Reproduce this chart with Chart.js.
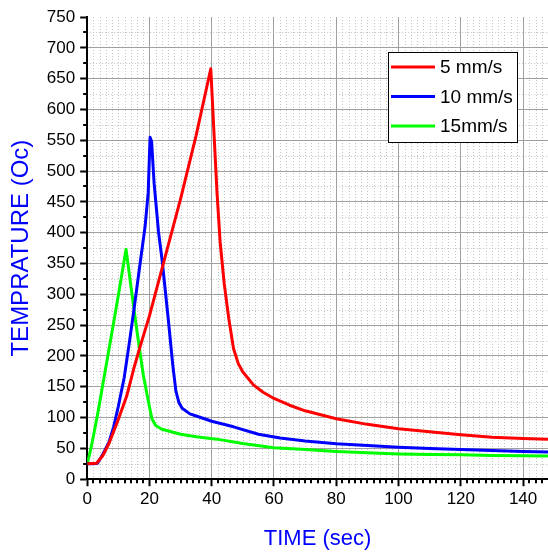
<!DOCTYPE html>
<html>
<head>
<meta charset="utf-8">
<script src="https://cdn.jsdelivr.net/npm/chart.js@4.4.0/dist/chart.umd.min.js"></script>
<style>
  html, body { margin: 0; padding: 0; background: #fff; }
  #caixa { width: 548px; height: 552px; }
</style>
</head>
<body>
<div id="caixa"><canvas id="grafico"></canvas></div>
<script>
// valores
const nomes = ['5 mm/s', '10 mm/s', '15mm/s'];
const cores = ['#ff0000', '#0000ff', '#00ff00'];

const tempo5 = [0, 3, 5, 7, 9.7, 12.7, 15, 17, 20, 25, 30, 35, 39.7, 40.7, 41.7, 42.7, 44, 45.5, 47, 48.5, 50, 53.4, 56.5, 60, 65, 70, 80, 90, 100, 110, 120, 130, 140, 148];
const temp5 = [25, 26, 38, 58, 93, 135, 180, 215, 265, 360, 455, 558, 666, 565, 465, 385, 318, 260, 212, 188, 174, 153, 141, 131, 120, 111, 98, 89, 82, 77, 72, 68, 66, 65];

const tempo10 = [0, 2, 3.3, 5, 7, 8.5, 10, 11.9, 13.5, 15.1, 17, 18.6, 19.6, 20.2, 20.7, 21.5, 22.9, 24.1, 26, 27.5, 28.5, 29.5, 30.5, 33, 36, 40, 47, 55, 62, 70, 80, 90, 100, 110, 120, 130, 140, 148];
const temp10 = [25, 25, 26, 40, 60, 85, 118, 165, 220, 278, 350, 410, 465, 555, 548, 480, 402, 354, 262, 185, 143, 124, 115, 106, 101, 94, 85, 73, 67, 62, 57.6, 54.5, 52, 50, 48, 46.5, 45, 44];

const tempo15 = [0, 1, 2, 3.3, 5, 7.6, 10, 12.5, 14, 16, 18, 19.7, 20.8, 22, 24, 27, 30, 35, 41.6, 50, 60, 70, 80, 90, 100, 110, 120, 130, 140, 148];
const temp15 = [25, 45, 70, 104, 153, 228, 298, 373, 315, 240, 170, 125, 98, 87, 81, 77, 73, 69, 65, 58, 51, 48, 45, 43, 41, 40, 39.5, 38.5, 38, 37.5];

const ticksX = [0, 20, 40, 60, 80, 100, 120, 140];

const fonte = '"Liberation Sans", Arial, sans-serif';

function pontos(xs, ys) {
  return xs.map((x, i) => ({ x: x, y: ys[i] }));
}

// grade menor pontilhada + tracinhos menores
const gradeMenor = {
  id: 'gradeMenor',
  beforeDraw(chart) {
    const { ctx, chartArea: a, scales: { x, y } } = chart;
    ctx.save();
    ctx.strokeStyle = '#c4c4c4';
    ctx.lineWidth = 1;
    ctx.setLineDash([1, 2]);
    for (let v = 2; v < x.max; v += 2) {
      if (v % 20 === 0) continue;
      const px = Math.round(x.getPixelForValue(v)) + 0.5;
      ctx.beginPath(); ctx.moveTo(px, a.top); ctx.lineTo(px, a.bottom); ctx.stroke();
    }
    for (let v = 25; v <= y.max; v += 50) {
      const py = Math.round(y.getPixelForValue(v)) + 0.5;
      ctx.beginPath(); ctx.moveTo(a.left, py); ctx.lineTo(a.right, py); ctx.stroke();
    }
    ctx.restore();
  },
  afterDraw(chart) {
    const { ctx, chartArea: a, scales: { x, y } } = chart;
    ctx.save();
    ctx.strokeStyle = '#000';
    ctx.lineWidth = 2;
    for (let v = 2; v < x.max; v += 2) {
      if (v % 20 === 0) continue;
      const px = Math.round(x.getPixelForValue(v));
      ctx.beginPath(); ctx.moveTo(px, a.bottom); ctx.lineTo(px, a.bottom + 4); ctx.stroke();
    }
    for (let v = 25; v <= y.max; v += 50) {
      const py = Math.round(y.getPixelForValue(v));
      ctx.beginPath(); ctx.moveTo(a.left, py); ctx.lineTo(a.left - 4, py); ctx.stroke();
    }
    ctx.restore();
  }
};

// legenda com caixa
const legendaCaixa = {
  id: 'legendaCaixa',
  afterDraw(chart) {
    const ctx = chart.ctx;
    const bx = 388, by = 52, bw = 129, bh = 90;
    ctx.save();
    ctx.fillStyle = '#fff';
    ctx.fillRect(bx, by, bw, bh);
    ctx.strokeStyle = '#000';
    ctx.lineWidth = 1;
    ctx.strokeRect(bx + 0.5, by + 0.5, bw, bh);
    ctx.font = '19px ' + fonte;
    ctx.textBaseline = 'middle';
    chart.data.datasets.forEach((ds, i) => {
      const ly = by + 15 + i * 29.5;
      ctx.strokeStyle = ds.borderColor;
      ctx.lineWidth = 3;
      ctx.beginPath(); ctx.moveTo(bx + 3, ly); ctx.lineTo(bx + 47, ly); ctx.stroke();
      ctx.fillStyle = '#000';
      ctx.fillText(ds.label, bx + 52, ly + 1);
    });
    ctx.restore();
  }
};

const grafico = new Chart(document.getElementById('grafico'), {
  type: 'line',
  data: {
    datasets: [
      { label: nomes[0], data: pontos(tempo5, temp5), borderColor: cores[0] },
      { label: nomes[1], data: pontos(tempo10, temp10), borderColor: cores[1] },
      { label: nomes[2], data: pontos(tempo15, temp15), borderColor: cores[2] }
    ]
  },
  options: {
    responsive: true,
    maintainAspectRatio: false,
    animation: false,
    devicePixelRatio: 1,
    layout: { padding: { top: 17, right: 0, bottom: 0, left: 0 } },
    elements: {
      line: { borderWidth: 3, tension: 0, borderJoinStyle: 'round' },
      point: { radius: 0 }
    },
    plugins: { legend: { display: false }, tooltip: { enabled: false } },
    scales: {
      x: {
        type: 'linear',
        min: 0,
        max: 148,
        afterBuildTicks: s => { s.ticks = ticksX.map(v => ({ value: v })); },
        ticks: { color: '#000', font: { family: fonte, size: 17 }, padding: 3, maxRotation: 0, autoSkip: false },
        grid: { color: '#a0a0a0', lineWidth: 1, tickColor: '#000', tickLength: 7, tickWidth: 2 },
        border: { color: '#000', width: 2 },
        title: { display: true, text: 'TIME (sec)', color: '#0000ff', font: { family: fonte, size: 22 }, padding: { top: 13, bottom: 0 } }
      },
      y: {
        min: 0,
        max: 750,
        ticks: { stepSize: 50, color: '#000', font: { family: fonte, size: 17 }, padding: 5 },
        grid: {
          color: c => (c.tick && c.tick.value === 750) ? 'rgba(0,0,0,0)' : '#a0a0a0',
          lineWidth: 1, tickColor: '#000', tickLength: 7, tickWidth: 2
        },
        border: { color: '#000', width: 2 },
        title: { display: true, text: 'TEMPRATURE (Oc)', color: '#0000ff', font: { family: fonte, size: 24 }, padding: { top: 7, bottom: 6 } }
      }
    }
  },
  plugins: [gradeMenor, legendaCaixa]
});
</script>
</body>
</html>
